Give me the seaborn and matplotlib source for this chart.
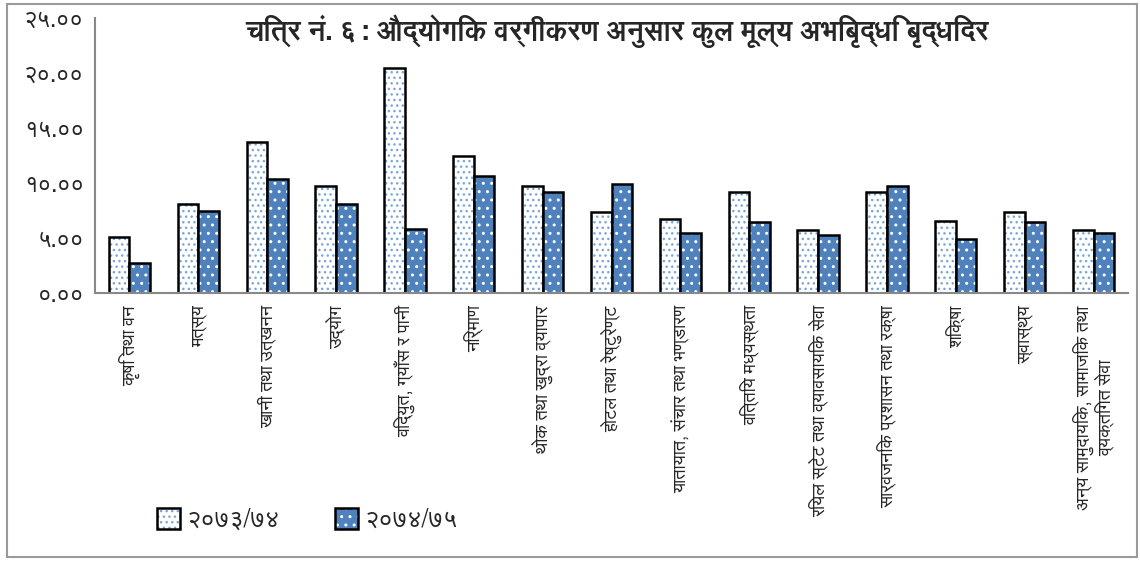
import numpy as np
import pandas as pd
import matplotlib
matplotlib.use("Agg")
import matplotlib.pyplot as plt
import seaborn as sns
from matplotlib.colors import to_rgba
from matplotlib.patches import Rectangle

# ---------------- data ----------------
categories = [
    "कृषि तथा वन",
    "मत्स्य",
    "खानी तथा उत्खनन",
    "उद्योग",
    "विद्युत, ग्याँस र पानी",
    "निर्माण",
    "थोक तथा खुद्रा व्यापार",
    "होटल तथा रेष्टुरेण्ट",
    "यातायात, संचार तथा भण्डारण",
    "वित्तिय मध्यस्थता",
    "रियल स्टेट तथा व्यावसायिक सेवा",
    "सार्वजनिक प्रशासन तथा रक्षा",
    "शिक्षा",
    "स्वास्थ्य",
    "अन्य सामुदायिक, सामाजिक तथा\nव्यक्तिगत सेवा",
]
series_names = ["२०७३/७४", "२०७४/७५"]
values_7374 = [5.10, 8.03, 13.69, 9.67, 20.47, 12.47, 9.67, 7.33, 6.75, 9.12, 5.69, 9.12, 6.57, 7.33, 5.69]
values_7475 = [2.74, 7.48, 10.37, 8.03, 5.84, 10.58, 9.12, 9.89, 5.47, 6.39, 5.29, 9.67, 4.93, 6.39, 5.47]
ytick_values = [0, 5, 10, 15, 20, 25]
ytick_labels = ["०.००", "५.००", "१०.००", "१५.००", "२०.००", "२५.००"]
title_text = "चित्र नं. ६: औद्योगिक वर्गीकरण अनुसार कुल मूल्य अभिबृद्धि बृद्धिदर"

# ---------------- style ----------------
sns.set_style("white")
plt.rcParams["font.family"] = ["FreeSans", "DejaVu Sans"]

# ---------------- figure ----------------
fig = plt.figure(figsize=(11.4, 5.61), dpi=100)
ax = fig.add_axes([95 / 1140, 1 - 292.7 / 561, (1128 - 95) / 1140, (292.7 - 18) / 561])

df = pd.DataFrame({
    "category": categories * 2,
    "series": [series_names[0]] * len(categories) + [series_names[1]] * len(categories),
    "value": values_7374 + values_7475,
})

light_face, dark_face = "white", "#4F81BD"
sns.barplot(data=df, x="category", y="value", hue="series", order=categories,
            hue_order=series_names, palette=[light_face, dark_face],
            width=0.6, ax=ax, saturation=1, legend=False, errorbar=None)

hatches = ["...", ".."]
hatch_cols = ["#7AA6DA", "white"]
for cont, h, hc in zip(ax.containers, hatches, hatch_cols):
    for p in cont.patches:
        p.set_hatch(h)
        p.set_edgecolor("black")
        p.set_linewidth(1.8)
        p._hatch_color = to_rgba(hc)
        p.stale = True

ax.set_ylim(0, 25)
ax.set_xlim(-0.5, len(categories) - 0.5)
ax.set_yticks(ytick_values)
ax.set_yticklabels(ytick_labels, fontsize=17)
ax.set_xticks(range(len(categories)))
ax.set_xticklabels(categories, rotation=90, fontsize=13, va="top", ha="center",
                   multialignment="center", linespacing=1.0)
ax.set_xticks(np.arange(-0.5, len(categories), 1), minor=True)
ax.tick_params(axis="x", which="major", length=0, pad=9)
ax.tick_params(axis="x", which="minor", length=4, width=1.2, color="#888888", direction="out")
ax.tick_params(axis="y", length=4, width=1.2, color="#888888", direction="out", pad=4)
ax.set_xlabel("")
ax.set_ylabel("")
for s in ["top", "right"]:
    ax.spines[s].set_visible(False)
for s in ["left", "bottom"]:
    ax.spines[s].set_color("#888888")
    ax.spines[s].set_linewidth(1.5)

fig.text(0.541, 0.945, title_text, ha="center", va="center", fontsize=20, fontweight="bold")

handles = [ax.containers[0].patches[0], ax.containers[1].patches[0]]
leg = fig.legend(handles, series_names, loc="center", bbox_to_anchor=(0.27, 0.072),
                 ncol=2, frameon=False, fontsize=18, handlelength=0.9, handleheight=0.9,
                 columnspacing=2.2, handletextpad=0.3)

fig.patches.append(Rectangle((7 / 1140, 4 / 561), (1137 - 7) / 1140, (557 - 4) / 561,
                             transform=fig.transFigure, fill=False, edgecolor="#9a9a9a",
                             linewidth=1.5, zorder=0))

fig.savefig("out.png", dpi=100)
